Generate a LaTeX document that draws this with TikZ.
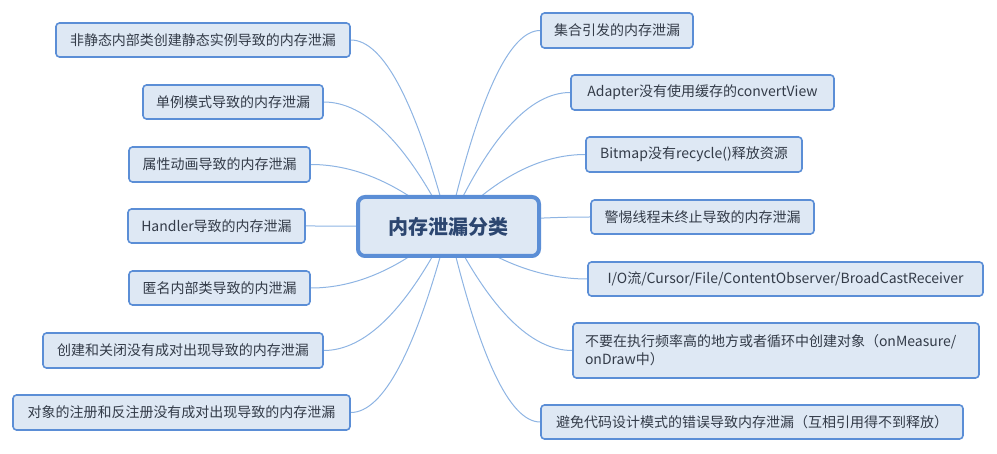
\documentclass[tikz,border=0pt]{standalone}
\usepackage{fontspec}
\setmainfont{Noto Sans CJK SC}
\usetikzlibrary{calc,backgrounds}
\definecolor{boxfill}{HTML}{DEE8F4}
\definecolor{boxline}{HTML}{5B8ED6}
\definecolor{linkcol}{HTML}{8EB4E3}
\definecolor{txt}{HTML}{333B48}
\definecolor{ctxt}{HTML}{2C4670}
\tikzset{
 topic/.style={draw=boxline, fill=boxfill, line width=1.6pt, rounded corners=3.5pt, inner sep=0pt, text=txt, font=\fontsize{14}{18}\selectfont},
 root/.style={draw=boxline, fill=boxfill, line width=4pt, rounded corners=7pt, inner sep=0pt, text=ctxt, font=\fontsize{20}{24}\selectfont\bfseries},
 link/.style={draw=linkcol, line width=1pt},
}
\newcommand\mmlink[2]{\draw[link] let \p1=(#1), \p2=(#2) in (\p1) .. controls ({\x1+(\x2-\x1)/3},{\y1+2*(\y2-\y1)/3}) and ({\x1+2*(\x2-\x1)/3},\y2) .. (\p2);}
\begin{document}
\begin{tikzpicture}[x=1pt,y=-1pt]
\useasboundingbox (0,0) rectangle (997,454);
\node[root, minimum width=181pt, minimum height=59pt] (C) at (448.5,226.5) {内存泄漏分类};
% left
\node[topic, minimum width=294pt, minimum height=34pt] (L1) at (203,40) {非静态内部类创建静态实例导致的内存泄漏};
\node[topic, minimum width=180pt, minimum height=34pt] (L2) at (233,102) {单例模式导致的内存泄漏};
\node[topic, minimum width=181pt, minimum height=35pt] (L3) at (219.5,164.5) {属性动画导致的内存泄漏};
\node[topic, minimum width=177pt, minimum height=34pt] (L4) at (216.5,226) {Handler导致的内存泄漏};
\node[topic, minimum width=181pt, minimum height=34pt] (L5) at (219.5,288) {匿名内部类导致的内泄漏};
\node[topic, minimum width=280pt, minimum height=35pt] (L6) at (183,350.5) {创建和关闭没有成对出现导致的内存泄漏};
\node[topic, minimum width=337pt, minimum height=35pt] (L7) at (181.5,412.5) {对象的注册和反注册没有成对出现导致的内存泄漏};
% right
\node[topic, minimum width=152pt, minimum height=35pt] (R1) at (617,30.5) {集合引发的内存泄漏};
\node[topic, minimum width=263pt, minimum height=35pt] (R2) at (702.5,92.5) {Adapter没有使用缓存的convertView};
\node[topic, minimum width=216pt, minimum height=35pt] (R3) at (694,154.5) {Bitmap没有recycle()释放资源};
\node[topic, minimum width=223pt, minimum height=34pt] (R4) at (702.5,217) {警惕线程未终止导致的内存泄漏};
\node[topic, minimum width=395pt, minimum height=34pt] (R5) at (785.5,279) {I/O流/Cursor/File/ContentObserver/BroadCastReceiver};
\node[topic, minimum width=406pt, minimum height=55pt, align=left, text width=382pt, inner xsep=12pt] (R6) at (776,350.5) {不要在执行频率高的地方或者循环中创建对象（onMeasure/\\onDraw中）};
\node[topic, minimum width=422pt, minimum height=34pt] (R7) at (752,422) {避免代码设计模式的错误导致内存泄漏（互相引用得不到释放）};
\begin{scope}[on background layer]
\mmlink{C.center}{L1.east}
\mmlink{C.center}{L2.east}
\mmlink{C.center}{L3.east}
\mmlink{C.center}{L4.east}
\mmlink{C.center}{L5.east}
\mmlink{C.center}{L6.east}
\mmlink{C.center}{L7.east}
\mmlink{C.center}{R1.west}
\mmlink{C.center}{R2.west}
\mmlink{C.center}{R3.west}
\mmlink{C.center}{R4.west}
\mmlink{C.center}{R5.west}
\mmlink{C.center}{R6.west}
\mmlink{C.center}{R7.west}
\end{scope}
\end{tikzpicture}
\end{document}
